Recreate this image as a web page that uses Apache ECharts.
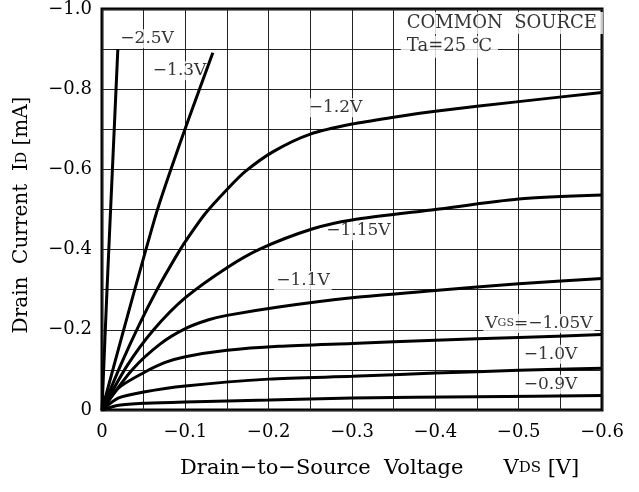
<!DOCTYPE html>
<html lang="en">
<head>
    <meta charset="UTF-8" />
    <title>Drain current vs drain-source voltage</title>
    <script src="https://cdn.jsdelivr.net/npm/echarts@6/dist/echarts.min.js"></script>
    <style>
        html, body { margin: 0; padding: 0; background: #fff; }
        #chart { width: 639px; height: 492px; }
    </style>
</head>
<body>
    <div id="chart"></div>
    <script type="text/javascript">
        // curves: [Vds (V), Id (mA)]
        const vgs25 = [[0, 0], [-0.006, -0.3], [-0.0125, -0.6], [-0.019, -0.90]];
        const vgs13 = [[0, 0], [-0.026, -0.2], [-0.05, -0.38], [-0.066, -0.496], [-0.082, -0.596], [-0.103, -0.72], [-0.133, -0.891]];
        const vgs12 = [[0, 0], [-0.022, -0.11], [-0.044, -0.21], [-0.066, -0.30], [-0.088, -0.38], [-0.1, -0.42], [-0.124, -0.49],
            [-0.15, -0.55], [-0.172, -0.595], [-0.206, -0.645], [-0.25, -0.688], [-0.3, -0.713], [-0.35, -0.73],
            [-0.4, -0.745], [-0.5, -0.769], [-0.6, -0.792]];
        const vgs115 = [[0, 0], [-0.03, -0.11], [-0.062, -0.2], [-0.1, -0.28], [-0.15, -0.355], [-0.19, -0.402],
            [-0.253, -0.452], [-0.3, -0.474], [-0.4, -0.50], [-0.5, -0.526], [-0.6, -0.536]];
        const vgs11 = [[0, 0], [-0.036, -0.1], [-0.07, -0.165], [-0.1, -0.203], [-0.128, -0.225], [-0.15, -0.236],
            [-0.212, -0.257], [-0.3, -0.28], [-0.4, -0.298], [-0.5, -0.315], [-0.6, -0.328]];
        const vgs105 = [[0, 0], [-0.02, -0.055], [-0.05, -0.093], [-0.075, -0.118], [-0.1, -0.133], [-0.15, -0.149],
            [-0.212, -0.159], [-0.3, -0.166], [-0.4, -0.174], [-0.5, -0.181], [-0.6, -0.188]];
        const vgs10 = [[0, 0], [-0.02, -0.03], [-0.05, -0.045], [-0.1, -0.06], [-0.2, -0.077], [-0.3, -0.084],
            [-0.4, -0.092], [-0.5, -0.099], [-0.6, -0.104]];
        const vgs09 = [[0, 0], [-0.02, -0.012], [-0.05, -0.017], [-0.1, -0.02], [-0.2, -0.025], [-0.3, -0.03],
            [-0.45, -0.033], [-0.6, -0.036]];

        const curves = [vgs25, vgs13, vgs12, vgs115, vgs11, vgs105, vgs10, vgs09];
        const curveNames = ['−2.5V', '−1.3V', '−1.2V', '−1.15V', '−1.1V', '−1.05V', '−1.0V', '−0.9V'];

        // annotation texts and where they sit on the graph (data units)
        const noteText = ['−2.5V', '−1.3V', '−1.2V', '−1.15V', '−1.1V', '{v|V}{s|GS}=−1.05V', '−1.0V', '−0.9V',
            'COMMON  SOURCE', 'Ta=25 ℃'];
        const noteVds = [-0.019, -0.058, -0.245, -0.266, -0.206, -0.457, -0.503, -0.503, -0.358, -0.358];
        const noteId = [-0.926, -0.846, -0.754, -0.447, -0.323, -0.216, -0.139, -0.0645, -0.965, -0.906];

        const xMin = -0.6, xMax = 0, xStep = 0.05;
        const yMin = -1.0, yMax = 0, yStep = 0.1;

        const FONT = '"DejaVu Serif", "Liberation Serif", serif';

        function minusLabel(v) {
            if (Math.abs(v) < 1e-9) return '0';
            return '−' + Math.abs(v).toFixed(1);
        }

        let chart = echarts.init(document.getElementById('chart'), null, { renderer: 'canvas' });

        let series = curves.map(function (c, i) {
            return {
                name: curveNames[i],
                type: 'line',
                data: c,
                smooth: 0.25,
                symbol: 'none',
                lineStyle: { color: '#000', width: 3 },
                z: 3
            };
        });

        // the two header notes are set a bit larger than the curve tags
        const headerLabel = { fontSize: 18, padding: [2, 6] };

        series.push({
            name: 'notes',
            type: 'scatter',
            symbolSize: 1,
            itemStyle: { color: 'rgba(0,0,0,0)' },
            z: 2,
            data: noteText.map(function (t, i) {
                let item = { value: [noteVds[i], noteId[i]], name: t };
                if (i >= 8) item.label = headerLabel;
                return item;
            }),
            label: {
                show: true,
                position: 'right',
                distance: 0,
                formatter: function (p) { return p.name; },
                fontFamily: FONT,
                fontSize: 17,
                color: '#000',
                backgroundColor: '#fff',
                padding: [1, 2],
                rich: {
                    v: { fontFamily: FONT, fontSize: 17, color: '#000' },
                    s: { fontFamily: FONT, fontSize: 11, color: '#000', verticalAlign: 'bottom', padding: [0, 0, 3, 0] }
                }
            },
            emphasis: { disabled: true },
            labelLayout: { hideOverlap: false }
        });

        let option = {
            animation: false,
            backgroundColor: '#fff',
            grid: {
                left: 102, right: 37, top: 8, bottom: 82,
                show: true, borderColor: '#000', borderWidth: 3, backgroundColor: 'transparent'
            },
            xAxis: {
                type: 'value', min: xMin, max: xMax, interval: xStep, inverse: true,
                axisLine: { show: false }, axisTick: { show: false },
                splitLine: { show: true, lineStyle: { color: '#222', width: 1 } },
                axisLabel: {
                    margin: 13, fontFamily: FONT, fontSize: 18, color: '#000',
                    formatter: function (v) {
                        return Math.abs(Math.round(v * 100)) % 10 === 0 ? minusLabel(v) : '';
                    }
                }
            },
            yAxis: {
                type: 'value', min: yMin, max: yMax, interval: yStep, inverse: true,
                axisLine: { show: false }, axisTick: { show: false },
                splitLine: { show: true, lineStyle: { color: '#222', width: 1 } },
                axisLabel: {
                    margin: 10, fontFamily: FONT, fontSize: 18, color: '#000',
                    formatter: function (v) {
                        return Math.abs(Math.round(v * 10)) % 2 === 0 ? minusLabel(v) : '';
                    }
                }
            },
            graphic: [
                {
                    type: 'text', left: 180, top: 458,
                    style: {
                        text: 'Drain−to−Source  Voltage      {s|V}{t|DS} [V]',
                        font: '21px ' + FONT, fill: '#000',
                        rich: {
                            s: { fontFamily: FONT, fontSize: 21, fill: '#000' },
                            t: { fontFamily: FONT, fontSize: 15, fill: '#000', verticalAlign: 'bottom', padding: [0, 0, 3, 0] }
                        }
                    }
                },
                {
                    type: 'text', x: 22, y: 215, rotation: Math.PI / 2,
                    style: {
                        text: 'Drain  Current  I{t|D} [mA]',
                        font: '20px ' + FONT, fill: '#000',
                        align: 'center', verticalAlign: 'middle',
                        rich: {
                            t: { fontFamily: FONT, fontSize: 14, fill: '#000', verticalAlign: 'bottom', padding: [0, 0, 3, 0] }
                        }
                    }
                }
            ],
            series: series
        };
        chart.setOption(option);
    </script>
</body>
</html>
